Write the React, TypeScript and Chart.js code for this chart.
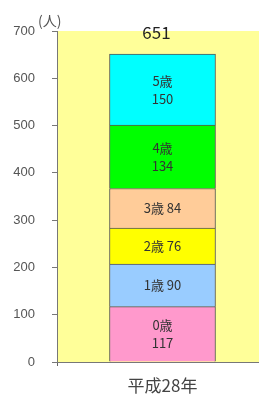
import React, { useEffect, useRef } from "react";
import { Chart, registerables } from "chart.js";

Chart.register(...registerables);

const categories = ["平成28年"];
const ageLabels = ["0歳", "1歳", "2歳", "3歳", "4歳", "5歳"];
const ageValues = [117, 90, 76, 84, 134, 150];
const ageColors = ["#FF99CC", "#99CCFF", "#FFFF00", "#FFCC99", "#00FF00", "#00FFFF"];
const twoLineLabels = [true, false, false, false, true, true];
const yTicks = [0, 100, 200, 300, 400, 500, 600, 700];
const unitLabel = "(人)";

const JP = '"Noto Sans CJK JP", "Liberation Sans", sans-serif';

export default function App() {
  const ref = useRef<HTMLCanvasElement | null>(null);
  useEffect(() => {
    document.body.style.margin = "0";
    const canvas = ref.current!;
    const bgPlugin = {
      id: "bg",
      beforeDraw(chart: any) {
        const { ctx, chartArea } = chart;
        ctx.save();
        ctx.fillStyle = "#FFFF99";
        ctx.fillRect(chartArea.left, chartArea.top, chartArea.right - chartArea.left, chartArea.bottom - chartArea.top);
        ctx.restore();
      },
    };
    const labelPlugin = {
      id: "labels",
      afterDatasetsDraw(chart: any) {
        const { ctx } = chart;
        ctx.save();
        ctx.textAlign = "center";
        ctx.textBaseline = "middle";
        ctx.fillStyle = "#333";
        ctx.font = `13px ${JP}`;
        let topY = Infinity;
        let cx = 0;
        chart.data.datasets.forEach((ds: any, i: number) => {
          const meta = chart.getDatasetMeta(i);
          meta.data.forEach((el: any) => {
            const midY = (el.y + el.base) / 2;
            cx = el.x;
            topY = Math.min(topY, el.y);
            const v = ds.data[0];
            if (twoLineLabels[i]) {
              ctx.fillText(ageLabels[i], el.x, midY - 9);
              ctx.fillText(String(v), el.x, midY + 9);
            } else {
              ctx.fillText(`${ageLabels[i]} ${v}`, el.x, midY);
            }
          });
        });
        const total = ageValues.reduce((a, b) => a + b, 0);
        ctx.font = `17px ${JP}`;
        ctx.fillStyle = "#222";
        ctx.fillText(String(total), cx - 6, topY - 22);
        // unit label
        const ys = chart.scales.y;
        ctx.font = `14px ${JP}`;
        ctx.fillStyle = "#555";
        ctx.textAlign = "left";
        ctx.fillText(unitLabel, ys.right - 19, chart.chartArea.top - 10);
        ctx.restore();
      },
    };
    const chart = new Chart(canvas, {
      type: "bar",
      data: {
        labels: categories,
        datasets: ageValues.map((v, i) => ({
          label: ageLabels[i],
          data: [v],
          backgroundColor: ageColors[i],
          borderColor: "#555",
          borderWidth: 1,
          barThickness: 106,
        })),
      },
      options: {
        animation: false,
        responsive: false,
        layout: { padding: { top: 31, left: 0, right: 0, bottom: 0 } },
        plugins: { legend: { display: false }, tooltip: { enabled: false } },
        scales: {
          x: {
            stacked: true,
            grid: { display: true, drawOnChartArea: false, drawTicks: true, tickLength: 4, color: "#666" },
            border: { display: true, color: "#777", width: 1 },
            ticks: { color: "#444", font: { family: JP, size: 17 }, padding: 9 },
            afterFit(scale: any) {
              scale.height = 37;
            },
          },
          y: {
            stacked: true,
            min: 0,
            max: 700,
            afterBuildTicks(scale: any) {
              scale.ticks = yTicks.map((v) => ({ value: v }));
            },
            grid: { display: true, drawOnChartArea: false, drawTicks: true, tickLength: 5, color: "#777" },
            border: { display: true, color: "#777", width: 1 },
            ticks: { color: "#555", font: { family: '"Liberation Sans", sans-serif', size: 13 }, padding: 17 },
            afterFit(scale: any) {
              scale.width = 57;
            },
          },
        },
      },
      plugins: [bgPlugin, labelPlugin],
    });
    return () => chart.destroy();
  }, []);
  return (
    <div style={{ position: "fixed", left: 0, top: 0, width: 259, height: 399, overflow: "hidden", background: "#fff" }}>
      <canvas ref={ref} width={268} height={399} style={{ display: "block" }} />
    </div>
  );
}
